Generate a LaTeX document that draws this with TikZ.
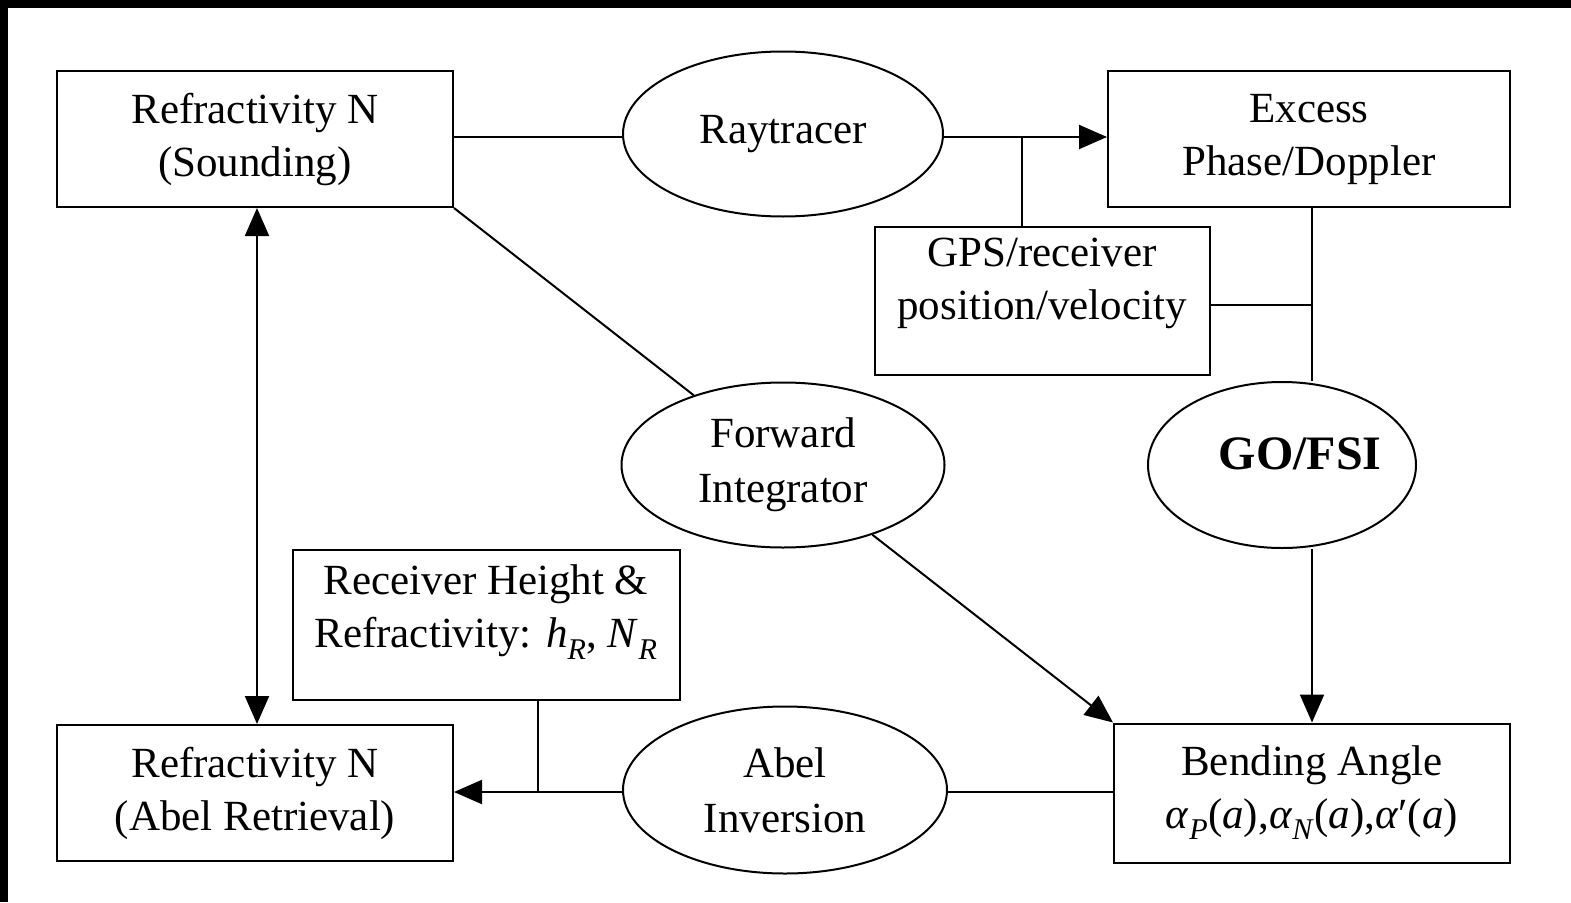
\documentclass[tikz,border=0pt]{standalone}
\usepackage{fontspec}
\setmainfont{Liberation Serif}
\newfontfamily\gofont{Liberation Serif}
\usetikzlibrary{arrows.meta,shapes.geometric}
\tikzset{
  boxnode/.style={draw,line width=2pt,inner sep=0pt,align=center,font=\fontsize{43}{53}\selectfont},
  ellnode/.style={draw,ellipse,line width=2pt,inner sep=0pt,align=center,font=\fontsize{43}{55}\selectfont},
  conn/.style={line width=2pt},
  arr/.style={line width=2pt,-{Triangle[length=28pt,width=24pt]}},
  darr/.style={line width=2pt,{Triangle[length=28pt,width=24pt]}-{Triangle[length=28pt,width=24pt]}}
}
\begin{document}
\begin{tikzpicture}[x=1pt,y=-1pt]
\fill[black] (0,0) rectangle (1571,902);
\fill[white] (8,8) rectangle (1571,902);
\useasboundingbox (0,0) rectangle (1571,902);

% boxes
\node[boxnode,minimum width=396pt,minimum height=136pt] (b1) at (255,139) {Refractivity N\\(Sounding)};
\node[boxnode,minimum width=402pt,minimum height=136pt] (ex) at (1309,139) {Excess\\Phase/Doppler};
\node[boxnode,minimum width=335pt,minimum height=148pt] (gps) at (1042,301) {GPS/receiver\\position/velocity\\[-8pt]\mbox{}};
\node[boxnode,minimum width=387pt,minimum height=150pt] (rcv) at (486,625) {Receiver Height \&\\Refractivity: \textit{h}\textsubscript{\textit{R}}, \textit{N}\textsubscript{\textit{R}}\\[-16pt]\mbox{}};
\node[boxnode,minimum width=396pt,minimum height=136pt] (ab) at (255,793) {Refractivity N\\(Abel Retrieval)};
\node[boxnode,minimum width=396pt,minimum height=139pt] (bend) at (1312,793) {Bending Angle\\\textit{α}\textsubscript{\textit{P}}(\textit{a}),\textit{α}\textsubscript{\textit{N}}(\textit{a}),\textit{α}′(\textit{a})};

% ellipses
\node[ellnode,minimum width=320pt,minimum height=165pt] (ray) at (783,134) {Raytracer};
\node[ellnode,minimum width=323pt,minimum height=165pt] (fwd) at (783,465) {Forward\\Integrator};
\node[ellnode,minimum width=268pt,minimum height=166pt] (go) at (1282,465) {};
\node[font=\gofont\bfseries\fontsize{48}{56}\selectfont,inner sep=0pt] (gotext) at (1300,454) {GO/FSI};
\node[ellnode,minimum width=324pt,minimum height=167pt] (abel) at (785,790) {Abel\\Inversion};

% junction coordinates
\coordinate (j1) at (1022,137);
\coordinate (j2) at (1312,305);
\coordinate (j3) at (538,792);

% connectors
\draw[conn] (b1.east |- j1) -- (ray.west |- j1);
\draw[arr] (ray.east |- j1) -- (ex.west |- j1);
\draw[conn] (j1 |- gps.north) -- (j1);
\draw[conn] (ex.south -| j2) -- (j2 |- go.north);
\draw[conn] (gps.east |- j2) -- (j2);
\draw[conn] (b1.south east) -- (fwd);
\draw[arr] (fwd) -- (bend.north west);
\draw[arr] (bend.north |- go.south) -- (bend.north);
\draw[darr] (b1.south -| 257,0) -- (ab.north -| 257,0);
\draw[conn] (bend.west |- j3) -- (abel.east |- j3);
\draw[arr] (abel.west |- j3) -- (ab.east |- j3);
\draw[conn] (j3 |- rcv.south) -- (j3);
\end{tikzpicture}
\end{document}
